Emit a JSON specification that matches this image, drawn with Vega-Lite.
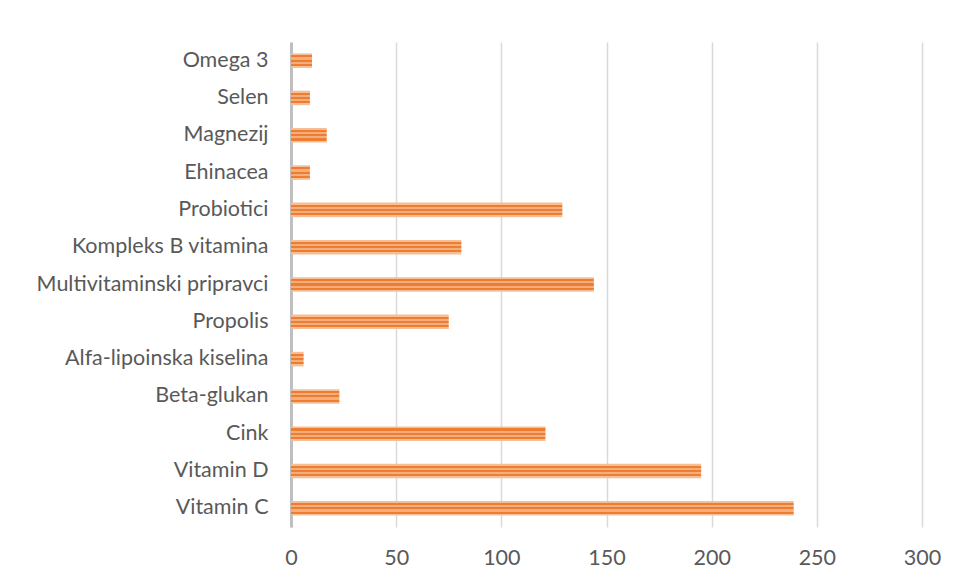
{
  "$schema": "https://vega.github.io/schema/vega-lite/v6.json",
  "autosize": {"type": "none"},
  "width": 631,
  "height": 485,
  "padding": {"left": 291, "top": 42, "right": 35, "bottom": 54},
  "background": "white",
  "config": {
    "view": {"stroke": null},
    "font": "Lato"
  },
  "data": {
    "values": [
      {"item": "Omega 3", "value": 10},
      {"item": "Selen", "value": 9},
      {"item": "Magnezij", "value": 17},
      {"item": "Ehinacea", "value": 9},
      {"item": "Probiotici", "value": 129},
      {"item": "Kompleks B vitamina", "value": 81},
      {"item": "Multivitaminski pripravci", "value": 144},
      {"item": "Propolis", "value": 75},
      {"item": "Alfa-lipoinska kiselina", "value": 6},
      {"item": "Beta-glukan", "value": 23},
      {"item": "Cink", "value": 121},
      {"item": "Vitamin D", "value": 195},
      {"item": "Vitamin C", "value": 239}
    ]
  },
  "mark": {
    "type": "bar",
    "fill": {
      "gradient": "linear",
      "x1": 0, "y1": 0, "x2": 0, "y2": 1,
      "stops": [
        {"offset": 0, "color": "#F6BE96"},
        {"offset": 0.14, "color": "#F6BE96"},
        {"offset": 0.14, "color": "#ED7D31"},
        {"offset": 0.28, "color": "#ED7D31"},
        {"offset": 0.28, "color": "#F4AE7C"},
        {"offset": 0.43, "color": "#F4AE7C"},
        {"offset": 0.43, "color": "#ED7D31"},
        {"offset": 0.57, "color": "#ED7D31"},
        {"offset": 0.57, "color": "#F4AE7C"},
        {"offset": 0.72, "color": "#F4AE7C"},
        {"offset": 0.72, "color": "#ED7D31"},
        {"offset": 0.86, "color": "#ED7D31"},
        {"offset": 0.86, "color": "#F6BE96"},
        {"offset": 1, "color": "#F6BE96"}
      ]
    }
  },
  "encoding": {
    "y": {
      "field": "item",
      "type": "nominal",
      "sort": null,
      "scale": {"paddingInner": 0.61, "paddingOuter": 0.305},
      "axis": {
        "title": null,
        "ticks": false,
        "domain": true,
        "domainColor": "#BFBFBF",
        "domainWidth": 3,
        "grid": false,
        "labelFontSize": 21.5,
        "labelColor": "#595959",
        "labelPadding": 23,
        "labelLimit": 0,
        "labelFont": "Lato"
      }
    },
    "x": {
      "field": "value",
      "type": "quantitative",
      "scale": {"domain": [0, 300], "nice": false},
      "axis": {
        "title": null,
        "values": [0, 50, 100, 150, 200, 250, 300],
        "ticks": false,
        "domain": false,
        "grid": true,
        "gridColor": "#D9D9D9",
        "gridWidth": 1.5,
        "labelFontSize": 21.5,
        "labelColor": "#595959",
        "labelPadding": 20,
        "labelFont": "Lato",
        "labelFlush": false
      }
    }
  }
}
